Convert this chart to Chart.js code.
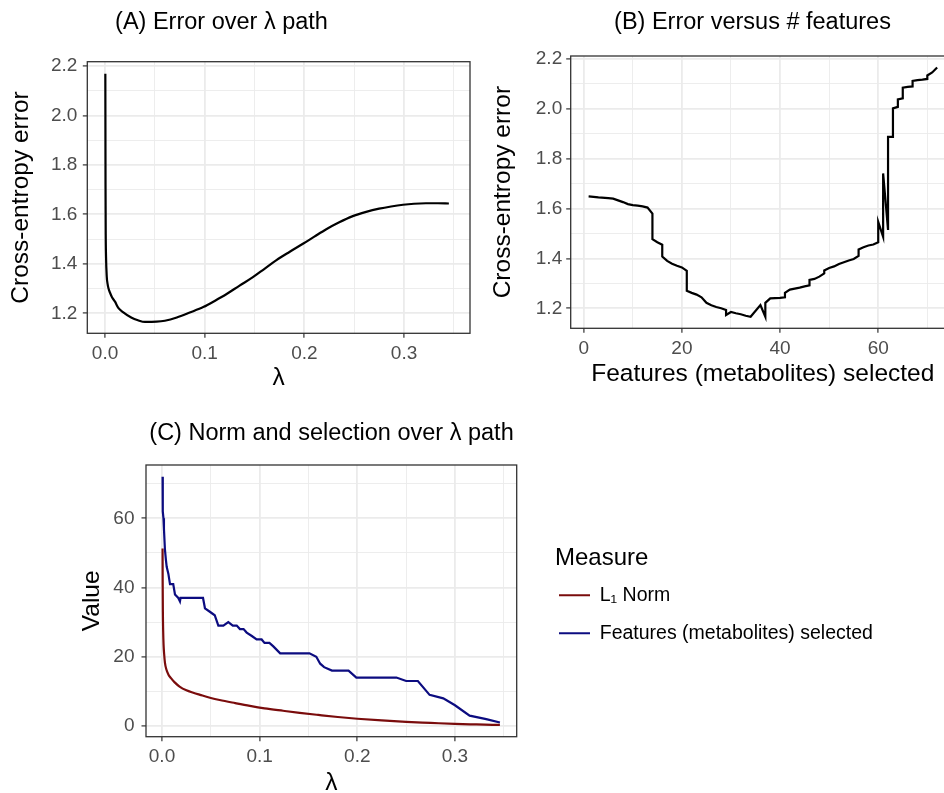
<!DOCTYPE html>
<html>
<head>
<meta charset="utf-8">
<script src="https://cdn.jsdelivr.net/npm/chart.js@4.4.1/dist/chart.umd.min.js"></script>
<style>
html, body { margin: 0; padding: 0; background: #ffffff; }
body { width: 944px; height: 793px; overflow: hidden; position: relative; }
canvas { position: absolute; }
</style>
</head>
<body>
<canvas id="chartA" width="480" height="400" style="left:0px;top:0px"></canvas>
<canvas id="chartB" width="495" height="400" style="left:475px;top:0px"></canvas>
<canvas id="chartC" width="894" height="400" style="left:50px;top:400px"></canvas>
<script>
// ---------- data ----------
const panelTitles = ['(A) Error over \u03bb path', '(B) Error versus # features', '(C) Norm and selection over \u03bb path'];

// Panel A: cross-entropy error along the lambda path
const lambdaA = [0.0003,0.0004,0.0005,0.0007,0.001,0.0017,0.0025,0.0035,0.005,0.007,0.01,0.0133,0.018,0.0267,0.033,0.04,0.0517,0.06,0.072,0.085,0.099,0.11,0.122,0.135,0.148,0.16,0.172,0.185,0.199,0.21,0.222,0.235,0.248,0.262,0.275,0.287,0.299,0.31,0.322,0.334,0.345];
const errorA = [2.169,1.95,1.72,1.52,1.43,1.35,1.32,1.30,1.283,1.265,1.247,1.222,1.205,1.182,1.172,1.165,1.166,1.170,1.183,1.203,1.226,1.25,1.278,1.312,1.345,1.38,1.415,1.448,1.482,1.51,1.54,1.568,1.592,1.61,1.623,1.632,1.639,1.643,1.645,1.645,1.644];

// Panel B: error versus number of selected features
const featuresB = [1,3,5,6,7,8,9,10,11,12,13,14,14,15,16,16,17,18,19,20,21,21,22,23,24,25,26,27,28,29,29,30,31,32,33,34,36,37,37,38,39,40,41,41,42,43,44,45,46,46,47,48,49,49,50,51,52,53,54,55,56,56,57,58,59,60,60,61,61,62,62,63,63,64,64,65,65,66,67,67,68,69,70,70,71,72];
const errorB = [1.649,1.645,1.642,1.640,1.633,1.626,1.618,1.614,1.612,1.609,1.604,1.580,1.477,1.465,1.455,1.408,1.390,1.379,1.371,1.364,1.350,1.270,1.262,1.255,1.244,1.222,1.212,1.205,1.200,1.193,1.173,1.185,1.180,1.176,1.170,1.166,1.213,1.166,1.222,1.240,1.241,1.242,1.244,1.262,1.275,1.279,1.283,1.288,1.292,1.314,1.318,1.327,1.340,1.352,1.362,1.368,1.378,1.385,1.392,1.398,1.410,1.436,1.445,1.452,1.456,1.465,1.547,1.487,1.741,1.514,1.888,1.888,2.002,2.008,2.038,2.042,2.085,2.088,2.090,2.112,2.115,2.117,2.120,2.134,2.146,2.166];

// Panel C: L1 norm and number of features along the lambda path
const seriesNamesC = ['L\u2081 Norm', 'Features (metabolites) selected'];
const lambdaNormC = [0.0006,0.0007,0.0009,0.0012,0.0016,0.0022,0.003,0.0045,0.0065,0.009,0.013,0.018,0.025,0.032,0.039,0.05,0.059,0.075,0.09,0.105,0.124,0.141,0.16,0.18,0.2,0.225,0.25,0.275,0.3,0.322,0.346];
const normC = [51.3,42,33,27.5,23.5,20.8,18.3,16.3,14.9,13.9,12.6,11.4,10.3,9.6,9.0,8.1,7.5,6.6,5.8,5.1,4.4,3.8,3.2,2.6,2.1,1.6,1.2,0.9,0.6,0.45,0.3];
const lambdaFeatC = [0.0006,0.0008,0.0015,0.002,0.003,0.004,0.0048,0.0065,0.0082,0.0115,0.0133,0.0167,0.0184,0.019,0.042,0.044,0.049,0.054,0.0577,0.0628,0.0679,0.0725,0.0765,0.0798,0.0835,0.0867,0.092,0.0969,0.102,0.105,0.110,0.114,0.121,0.151,0.158,0.162,0.166,0.174,0.191,0.199,0.240,0.250,0.262,0.274,0.288,0.300,0.315,0.332,0.346];
const featuresC = [72,62,60,57,51,48,46,44,41,41,38,37,36,37,37,34,33,32,29,29,30,29,29,28,28,27,26,25,25,24,24,23,21,21,20,18,17,16,16,14,14,13,13,9,8,6,3,2,1];

// Tick values
const lambdaMajorTicks = [0, 0.1, 0.2, 0.3];
const lambdaMinorTicks = [0.05, 0.15, 0.25, 0.35];
const errorMajorTicks = [1.2, 1.4, 1.6, 1.8, 2.0, 2.2];
const errorMinorTicks = [1.3, 1.5, 1.7, 1.9, 2.1];
const featureMajorTicks = [0, 20, 40, 60];
const featureMinorTicks = [10, 30, 50, 70];
const valueMajorTicks = [0, 20, 40, 60];
const valueMinorTicks = [10, 30, 50, 70];

// ---------- styling helpers ----------
const FONT = "'Liberation Sans', Arial, Helvetica, sans-serif";
Chart.defaults.font.family = FONT;
Chart.defaults.color = '#000000';

function isIn(arr, v) { return arr.some(m => Math.abs(m - v) < 1e-9); }

function makeAxis(o) {
  const horiz = o.position === 'bottom';
  return {
    type: 'linear',
    position: o.position,
    min: o.min,
    max: o.max,
    afterBuildTicks: s => {
      s.ticks = o.majors.concat(o.minors)
        .filter(v => v >= o.min && v <= o.max)
        .sort((a, b) => a - b)
        .map(v => ({ value: v }));
    },
    afterFit: s => {
      if (horiz) s.height = o.size; else s.width = o.size;
    },
    grid: {
      color: '#ebebeb',
      lineWidth: c => (c.tick && isIn(o.majors, c.tick.value)) ? 1.8 : 0.9,
      tickColor: c => (c.tick && isIn(o.majors, c.tick.value)) ? '#333333' : 'rgba(0,0,0,0)',
      tickWidth: 1.2,
      tickLength: 4.5,
      drawTicks: true
    },
    border: { display: false },
    ticks: {
      autoSkip: false,
      maxRotation: 0,
      minRotation: 0,
      padding: o.tickPad,
      color: '#4d4d4d',
      font: { size: 19 },
      callback: v => isIn(o.majors, v) ? o.fmt(v) : ''
    },
    title: {
      display: true,
      text: o.title,
      color: '#000000',
      font: { size: 24.5 },
      padding: horiz ? { top: 0, bottom: o.titlePad } : { top: o.titlePad, bottom: 0 }
    }
  };
}

const ggPanel = {
  id: 'ggPanel',
  afterLayout(chart) {
    // let the legend text run past its (narrow) layout box without being clipped
    if (chart.legend && chart.options.plugins.legend.display) chart.legend.right = chart.width;
  },
  afterDatasetsDraw(chart) {
    const { ctx, chartArea: a } = chart;
    ctx.save();
    ctx.strokeStyle = '#333333';
    ctx.lineWidth = 1.3;
    ctx.strokeRect(a.left, a.top, a.right - a.left, a.bottom - a.top);
    ctx.restore();
  },
  afterDraw(chart, args, opts) {
    if (!opts || !opts.text) return;
    const ctx = chart.ctx;
    ctx.save();
    ctx.fillStyle = '#000000';
    ctx.font = opts.size + 'px ' + FONT;
    ctx.textAlign = 'center';
    ctx.textBaseline = 'middle';
    ctx.fillText(opts.text, opts.x, opts.y);
    ctx.restore();
  }
};

const fmt1 = v => v.toFixed(1);
const fmt0 = v => String(Math.round(v));

function pts(xs, ys) { return xs.map((x, i) => ({ x: x, y: ys[i] })); }

// ---------- Panel A ----------
new Chart(document.getElementById('chartA'), {
  type: 'line',
  data: { datasets: [{
    label: 'Cross-entropy error',
    data: pts(lambdaA, errorA),
    borderColor: '#000000', borderWidth: 2.2, pointRadius: 0,
    cubicInterpolationMode: 'monotone', fill: false
  }] },
  options: {
    responsive: false, animation: false, devicePixelRatio: 1,
    layout: { padding: { left: 0, top: 61.7, right: 10, bottom: 0 } },
    scales: {
      x: makeAxis({ position: 'bottom', min: -0.0178, max: 0.3662, majors: lambdaMajorTicks, minors: lambdaMinorTicks, fmt: fmt1, title: '\u03bb', titlePad: 6.6, size: 66.7, tickPad: 4.5 }),
      y: makeAxis({ position: 'left', min: 1.1191, max: 2.2174, majors: errorMajorTicks, minors: errorMinorTicks, fmt: fmt1, title: 'Cross-entropy error', titlePad: 6.4, size: 87.3, tickPad: 5.5 })
    },
    plugins: {
      legend: { display: false }, tooltip: { enabled: false },
      ggPanel: { text: panelTitles[0], x: 221.5, y: 22.7, size: 23.5 }
    }
  },
  plugins: [ggPanel]
});

// ---------- Panel B ----------
new Chart(document.getElementById('chartB'), {
  type: 'line',
  data: { datasets: [{
    label: 'Cross-entropy error',
    data: pts(featuresB, errorB),
    borderColor: '#000000', borderWidth: 2.2, pointRadius: 0, tension: 0, fill: false
  }] },
  options: {
    responsive: false, animation: false, devicePixelRatio: 1,
    layout: { padding: { left: 0, top: 56, right: 15.2, bottom: 0 } },
    scales: {
      x: makeAxis({ position: 'bottom', min: -2.65, max: 75.6, majors: featureMajorTicks, minors: featureMinorTicks, fmt: fmt0, title: 'Features (metabolites) selected', titlePad: 11, size: 71.7, tickPad: 4.5 }),
      y: makeAxis({ position: 'left', min: 1.1198, max: 2.212, majors: errorMajorTicks, minors: errorMinorTicks, fmt: fmt1, title: 'Cross-entropy error', titlePad: 13.4, size: 95.7, tickPad: 4 })
    },
    plugins: {
      legend: { display: false }, tooltip: { enabled: false },
      ggPanel: { text: panelTitles[1], x: 752.5 - 475, y: 22.7, size: 23.5 }
    }
  },
  plugins: [ggPanel]
});

// ---------- Panel C ----------
new Chart(document.getElementById('chartC'), {
  type: 'line',
  data: { datasets: [
    {
      label: seriesNamesC[0],
      data: pts(lambdaNormC, normC),
      borderColor: '#7a0c0c', borderWidth: 2.2, pointRadius: 0,
      cubicInterpolationMode: 'monotone', fill: false
    },
    {
      label: seriesNamesC[1],
      data: pts(lambdaFeatC, featuresC),
      borderColor: '#0c0c80', borderWidth: 2.2, pointRadius: 0, tension: 0, fill: false
    }
  ] },
  options: {
    responsive: false, animation: false, devicePixelRatio: 1,
    layout: { padding: { left: 0, top: 65, right: 329, bottom: 0 } },
    scales: {
      x: makeAxis({ position: 'bottom', min: -0.01638, max: 0.3632, majors: lambdaMajorTicks, minors: lambdaMinorTicks, fmt: fmt1, title: '\u03bb', titlePad: 1.8, size: 63.3, tickPad: 4.5 }),
      y: makeAxis({ position: 'left', min: -3.09, max: 75.4, majors: valueMajorTicks, minors: valueMinorTicks, fmt: fmt0, title: 'Value', titlePad: 27.9, size: 96, tickPad: 7 }),
      ySpacer: {
        type: 'linear', position: 'right', display: true,
        grid: { display: false, drawTicks: false }, border: { display: false },
        ticks: { display: false }, title: { display: false },
        afterFit: s => { s.width = 38.3; }
      }
    },
    plugins: {
      tooltip: { enabled: false },
      legend: {
        display: true, position: 'right', align: 'start', fullSize: false, maxWidth: 60,
        title: { display: true, text: 'Measure', color: '#000000', position: 'start', font: { size: 24 }, padding: { top: 81, bottom: 6.7 } },
        labels: {
          usePointStyle: true, pointStyleWidth: 31, padding: 4, color: '#000000',
          font: { size: 19.5, lineHeight: 34 / 19.5 },
          generateLabels: chart => chart.data.datasets.map((ds, i) => ({
            text: [ds.label], fillStyle: ds.borderColor, strokeStyle: ds.borderColor,
            lineWidth: 2.2, pointStyle: 'line', hidden: false, datasetIndex: i, fontColor: '#000000'
          }))
        }
      },
      ggPanel: { text: panelTitles[2], x: 331.5 - 50, y: 433.8 - 400, size: 23.5 }
    }
  },
  plugins: [ggPanel]
});
</script>
</body>
</html>
